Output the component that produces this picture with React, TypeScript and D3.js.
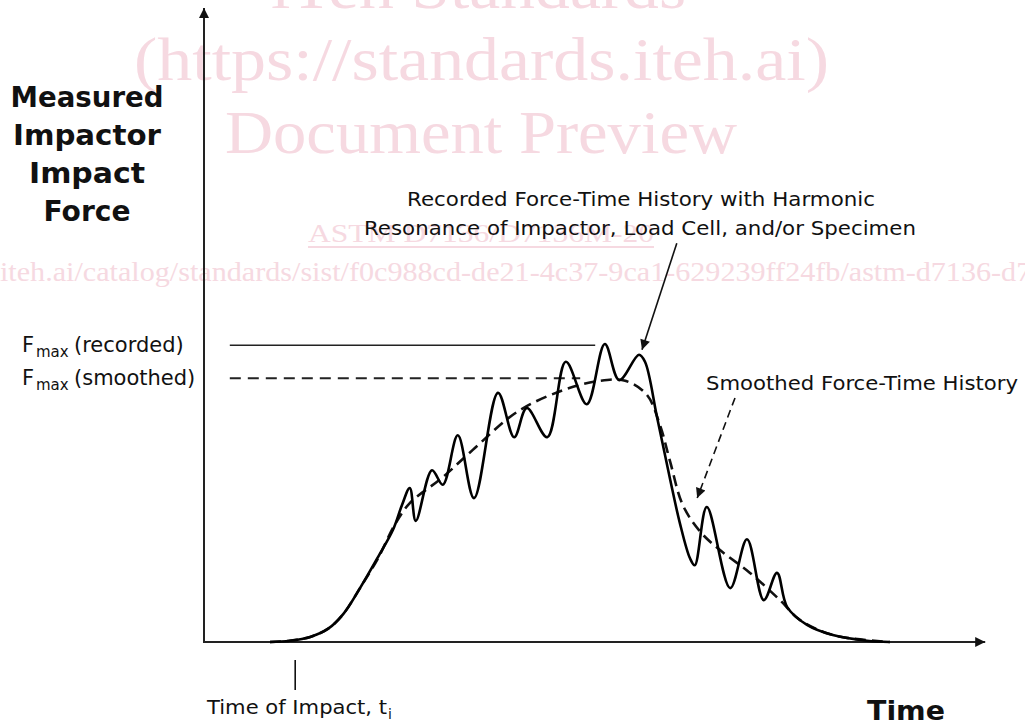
import React, { useEffect, useRef } from "react";
import * as d3 from "d3";

const WIDTH = 1025;
const HEIGHT = 726;

// schematic units: time (ms), force (kN)
const recordedTime = [1.1, 1.43, 1.77, 2.07, 2.32, 2.6, 2.9, 3.15, 3.3, 3.43, 3.53, 3.8, 3.98, 4.23, 4.5, 4.9, 5.17, 5.38, 5.72, 6.03, 6.38, 6.68, 6.92, 7.25, 7.35, 7.55, 7.77, 7.93, 8.1, 8.18, 8.38, 8.77, 9.05, 9.33, 9.55, 9.72, 10.05, 10.48, 11.05, 11.43];
const recordedForce = [0, 0.02, 0.08, 0.21, 0.44, 0.85, 1.34, 1.77, 2.16, 2.43, 1.91, 2.71, 2.48, 3.26, 2.27, 3.93, 3.23, 3.69, 3.23, 4.42, 3.75, 4.7, 4.13, 4.53, 4.42, 3.55, 2.56, 1.88, 1.32, 1.21, 2.13, 0.85, 1.62, 0.66, 1.09, 0.55, 0.27, 0.11, 0.02, 0];

const smoothedTime = [1.1, 1.43, 1.77, 2.07, 2.32, 2.6, 2.9, 3.18, 3.43, 3.98, 4.48, 5.22, 5.98, 6.6, 7.02, 7.38, 7.6, 7.77, 7.98, 8.27, 8.6, 9.1, 9.6, 9.93, 10.48, 11.43];
const smoothedForce = [0, 0.02, 0.08, 0.21, 0.44, 0.85, 1.32, 1.85, 2.19, 2.6, 3.03, 3.63, 3.97, 4.12, 4.12, 3.9, 3.42, 2.84, 2.16, 1.74, 1.45, 1.09, 0.66, 0.35, 0.11, 0];

const fmaxRecorded = 4.68;
const fmaxSmoothed = 4.16;
const fmaxLineStart = 0.43;
const fmaxRecordedEnd = 6.52;
const fmaxSmoothedEnd = 6.27;
const timeOfImpact = 1.52;

// annotation arrows [time, force] from tail to tip
const recordedArrow = [[7.88, 6.29], [7.3, 4.61]];
const smoothedArrow = [[8.85, 3.85], [8.22, 2.27]];

const yTitleLines = ["Measured", "Impactor", "Impact", "Force"];
const recordedNote = ["Recorded Force-Time History with Harmonic", "Resonance of Impactor, Load Cell, and/or Specimen"];
const smoothedNote = "Smoothed Force-Time History";

function App() {
  const ref = useRef<SVGSVGElement>(null);

  useEffect(() => {
    const svg = d3.select(ref.current);
    svg.selectAll("*").remove();

    const x = d3.scaleLinear().domain([0, 13]).range([204, 984]);
    const y = d3.scaleLinear().domain([0, 10]).range([642, 8]);

    const font = "'DejaVu Sans', Verdana, sans-serif";
    const pink = "#f6d9e1";

    // watermark of the source preview
    const wm = svg.append("g").attr("fill", pink).attr("font-family", "'Liberation Serif', serif");
    const fit = "spacingAndGlyphs";
    wm.append("text").attr("x", 271).attr("y", 8).attr("font-size", 62).attr("textLength", 415).attr("lengthAdjust", fit).text("iTeh Standards");
    wm.append("text").attr("x", 134).attr("y", 80).attr("font-size", 62).attr("textLength", 695).attr("lengthAdjust", fit).text("(https://standards.iteh.ai)");
    wm.append("text").attr("x", 225).attr("y", 153).attr("font-size", 62).attr("textLength", 512).attr("lengthAdjust", fit).text("Document Preview");
    wm.append("text").attr("x", 308).attr("y", 242).attr("font-size", 25).attr("textLength", 346).attr("lengthAdjust", fit).text("ASTM D7136/D7136M-20");
    wm.append("line").attr("x1", 308).attr("x2", 654).attr("y1", 247).attr("y2", 247).attr("stroke", pink).attr("stroke-width", 2);
    wm.append("text").attr("x", 0).attr("y", 281).attr("font-size", 28).attr("textLength", 1140).attr("lengthAdjust", fit).text("iteh.ai/catalog/standards/sist/f0c988cd-de21-4c37-9ca1-629239ff24fb/astm-d7136-d7136m-20");

    const defs = svg.append("defs");
    defs.append("marker").attr("id", "head").attr("viewBox", "0 0 10 10").attr("refX", 10).attr("refY", 5)
      .attr("markerWidth", 14).attr("markerHeight", 10).attr("markerUnits", "userSpaceOnUse").attr("orient", "auto")
      .append("path").attr("d", "M0,0L10,5L0,10Z").attr("fill", "#111");
    defs.append("marker").attr("id", "axhead").attr("viewBox", "0 0 10 10").attr("refX", 10).attr("refY", 5)
      .attr("markerWidth", 18).attr("markerHeight", 10).attr("markerUnits", "userSpaceOnUse").attr("orient", "auto")
      .append("path").attr("d", "M0,0L10,5L0,10Z").attr("fill", "#111");

    // axes
    svg.append("line").attr("x1", x(0)).attr("x2", x(0)).attr("y1", y(0) + 1).attr("y2", y(10))
      .attr("stroke", "#222").attr("stroke-width", 2).attr("marker-end", "url(#axhead)");
    svg.append("line").attr("x1", x(0) - 1).attr("x2", x(13.02)).attr("y1", y(0)).attr("y2", y(0))
      .attr("stroke", "#222").attr("stroke-width", 2).attr("marker-end", "url(#axhead)");

    // Fmax reference lines
    svg.append("line").attr("x1", x(fmaxLineStart)).attr("x2", x(fmaxRecordedEnd)).attr("y1", y(fmaxRecorded)).attr("y2", y(fmaxRecorded))
      .attr("stroke", "#222").attr("stroke-width", 1.6);
    svg.append("line").attr("x1", x(fmaxLineStart)).attr("x2", x(fmaxSmoothedEnd)).attr("y1", y(fmaxSmoothed)).attr("y2", y(fmaxSmoothed))
      .attr("stroke", "#222").attr("stroke-width", 1.8).attr("stroke-dasharray", "11 7");

    const smoothedPts = smoothedTime.map((t, i) => [x(t), y(smoothedForce[i])] as [number, number]);
    const recordedPts = recordedTime.map((t, i) => [x(t), y(recordedForce[i])] as [number, number]);
    const path = d3.line().curve(d3.curveCatmullRom.alpha(0.5));

    svg.append("path").attr("d", path(smoothedPts)).attr("fill", "none").attr("stroke", "#111")
      .attr("stroke-width", 2.6).attr("stroke-dasharray", "11 6");
    svg.append("path").attr("d", path(recordedPts)).attr("fill", "none").attr("stroke", "#000")
      .attr("stroke-width", 2.6).attr("stroke-linejoin", "round");

    // time of impact tick
    svg.append("line").attr("x1", x(timeOfImpact)).attr("x2", x(timeOfImpact)).attr("y1", 660).attr("y2", 690)
      .attr("stroke", "#111").attr("stroke-width", 1.6);

    // annotation arrows
    svg.append("line").attr("x1", x(recordedArrow[0][0])).attr("y1", y(recordedArrow[0][1]))
      .attr("x2", x(recordedArrow[1][0])).attr("y2", y(recordedArrow[1][1]))
      .attr("stroke", "#111").attr("stroke-width", 1.6).attr("marker-end", "url(#head)");
    svg.append("line").attr("x1", x(smoothedArrow[0][0])).attr("y1", y(smoothedArrow[0][1]))
      .attr("x2", x(smoothedArrow[1][0])).attr("y2", y(smoothedArrow[1][1]))
      .attr("stroke", "#111").attr("stroke-width", 1.6).attr("stroke-dasharray", "8 5").attr("marker-end", "url(#head)");

    // texts
    const t = svg.append("g").attr("font-family", font).attr("fill", "#111");
    const titleWidths = [153, 148, 116, 87];
    yTitleLines.forEach((s, i) => {
      t.append("text").attr("x", 87).attr("y", 107 + i * 38).attr("text-anchor", "middle")
        .attr("font-size", 28).attr("font-weight", "bold")
        .attr("textLength", titleWidths[i]).attr("lengthAdjust", fit).text(s);
    });
    t.append("text").attr("x", 906).attr("y", 720).attr("text-anchor", "middle").attr("font-size", 27)
      .attr("font-weight", "bold").attr("textLength", 78).attr("lengthAdjust", fit).text("Time");

    t.append("text").attr("x", 407).attr("y", 206).attr("font-size", 20)
      .attr("textLength", 468).attr("lengthAdjust", fit).text(recordedNote[0]);
    t.append("text").attr("x", 364).attr("y", 235).attr("font-size", 20)
      .attr("textLength", 552).attr("lengthAdjust", fit).text(recordedNote[1]);
    t.append("text").attr("x", 706).attr("y", 390).attr("font-size", 20)
      .attr("textLength", 312).attr("lengthAdjust", fit).text(smoothedNote);

    const fmaxLabel = (yy: number, word: string) => {
      t.append("text").attr("x", 22).attr("y", yy).attr("font-size", 21).text("F");
      t.append("text").attr("x", 36).attr("y", yy + 5).attr("font-size", 15).text("max");
      t.append("text").attr("x", 74).attr("y", yy).attr("font-size", 21).text("(" + word + ")");
    };
    fmaxLabel(y(fmaxRecorded) + 7, "recorded");
    fmaxLabel(y(fmaxSmoothed) + 7, "smoothed");

    t.append("text").attr("x", 207).attr("y", 714).attr("font-size", 20)
      .attr("textLength", 180).attr("lengthAdjust", fit).text("Time of Impact, t");
    t.append("text").attr("x", 388).attr("y", 719).attr("font-size", 14).text("i");
  });

  return (
    <div style={{ position: "absolute", left: 0, top: 0 }}>
      <svg ref={ref} width={WIDTH} height={HEIGHT} style={{ display: "block", background: "#fff" }} />
    </div>
  );
}

export default App;
